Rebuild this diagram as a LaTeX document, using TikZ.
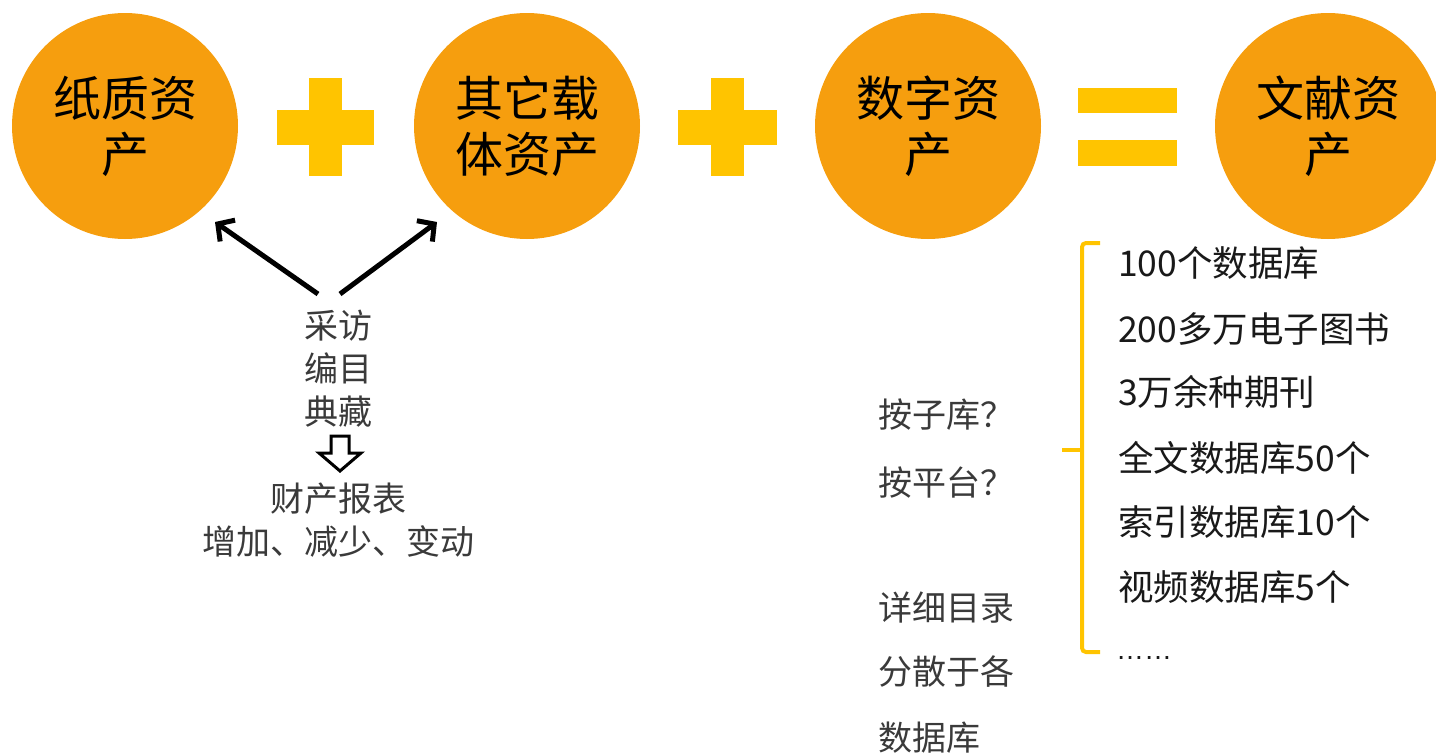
\documentclass[tikz,border=0pt]{standalone}
\usepackage{fontspec}
\setmainfont{Noto Sans CJK SC}
\newfontfamily\latinfont{Liberation Sans}
\usetikzlibrary{arrows.meta}
\definecolor{orng}{RGB}{246,158,14}
\definecolor{gold}{RGB}{255,196,0}
\definecolor{txtgray}{RGB}{58,58,58}
\begin{document}
\begin{tikzpicture}[x=1pt,y=-1pt,
  asset/.style={circle, fill=orng, minimum size=226pt, inner sep=0pt, align=center,
    font=\fontsize{48}{56}\selectfont, text=black},
  midtext/.style={align=center, inner sep=0pt, text=txtgray, font=\fontsize{34}{43}\selectfont},
  sidetext/.style={anchor=west, inner sep=0pt, text=txtgray, font=\fontsize{34}{40}\selectfont},
  item/.style={anchor=west, inner sep=0pt, text=black!90, font=\fontsize{35.5}{40}\selectfont},
  arr/.style={line width=5pt, -{Straight Barb[length=12pt,width=26pt]}},
  brace/.style={draw=gold, line width=4pt, rounded corners=4pt}
]
\useasboundingbox (0,0) rectangle (1436,755);
% assets
\node[asset] (c1) at (125,126) {纸质资\\产};
\node[asset] (c2) at (527,126) {其它载\\体资产};
\node[asset] (c3) at (928,126) {数字资\\产};
\node[asset] (c4) at (1328,126) {文献资\\产};
% plus signs and equals
\fill[gold] (277,110) rectangle (374,145);
\fill[gold] (309,78) rectangle (342,176);
\fill[gold] (678,110) rectangle (777,145);
\fill[gold] (711,78) rectangle (744,176);
\fill[gold] (1078,88) rectangle (1177,113);
\fill[gold] (1078,140) rectangle (1177,166);
% process text
\node[midtext] (proc) at (338,369) {采访\\编目\\典藏};
\node[midtext, align=center] (report) at (338,520) {财产报表\\增加、减少、变动};
\coordinate (s1) at (318,294);
\coordinate (s2) at (340,294);
\coordinate (t1) at (215,222);
\coordinate (t2) at (437,222);
\draw[arr] (s1) -- (t1);
\draw[arr] (s2) -- (t2);
% hollow arrow
\draw[line width=3pt, fill=white, line join=miter]
  (331,436) -- (349,436) -- (349,453) -- (361,453) -- (340,471) -- (319,453) -- (331,453) -- cycle;
% side questions
\node[sidetext] (q1) at (878,415) {按子库？};
\node[sidetext] (q2) at (878,483) {按平台？};
\node[sidetext] (d1) at (878,608) {详细目录};
\node[sidetext] (d2) at (878,672) {分散于各};
\node[sidetext] (d3) at (878,738) {数据库};
% bracket
\coordinate (bt) at (1100,243);
\coordinate (bb) at (1100,652);
\draw[brace] (bt) -- (1082,243) -- (1082,652) -- (bb);
\coordinate (bm) at (1082,450);
\coordinate (bl) at (1062,450);
\draw[draw=gold, line width=4pt] (bm) -- (bl);
% list
\node[item] (l1) at (1118,263) {100个数据库};
\node[item] (l2) at (1118,329) {200多万电子图书};
\node[item] (l3) at (1118,392) {3万余种期刊};
\node[item] (l4) at (1118,458) {全文数据库50个};
\node[item] (l5) at (1118,522) {索引数据库10个};
\node[item] (l6) at (1118,587) {视频数据库5个};
\node[item, font=\latinfont\fontsize{28}{32}\selectfont] (l7) at (1116,658) {……};
\end{tikzpicture}
\end{document}
